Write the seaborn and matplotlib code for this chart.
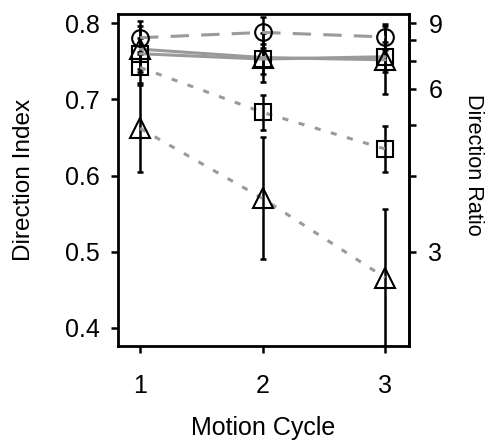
import numpy as np
import pandas as pd
import matplotlib
matplotlib.use("Agg")
import matplotlib.pyplot as plt
import seaborn as sns
from matplotlib.ticker import FixedLocator

cycles = [1, 2, 3]

circ_dash = [0.781, 0.788, 0.782]
circ_dash_err = [0.022, 0.020, 0.017]

tri_solid = [0.766, 0.755, 0.752]
tri_solid_err = [0.030, 0.032, 0.045]

sq_solid = [0.760, 0.753, 0.756]
sq_solid_err = [0.020, 0.020, 0.020]

sq_dot = [0.742, 0.683, 0.635]
sq_dot_err = [0.020, 0.023, 0.030]

tri_dot = [0.662, 0.570, 0.466]
tri_dot_err = [0.057, 0.080, 0.090]

xlabel = "Motion Cycle"
ylabel = "Direction Index"
y2label = "Direction Ratio"

sns.set_style("ticks")
plt.rcParams['font.family'] = ['Liberation Sans', 'DejaVu Sans']
plt.rcParams['text.color'] = 'black'
plt.rcParams['axes.labelcolor'] = 'black'

fig = plt.figure(figsize=(4.94, 4.41), dpi=100)
ax = fig.add_axes([0.239, 0.215, 0.589, 0.753])

series = [
    (circ_dash, circ_dash_err, 'o', (0, (6, 4)), 12),
    (tri_solid, tri_solid_err, '^', '-', 14),
    (sq_solid, sq_solid_err, 's', '-', 11),
    (sq_dot, sq_dot_err, 's', (0, (2, 3.5)), 11),
    (tri_dot, tri_dot_err, '^', (0, (2, 3.5)), 14),
]

for vals, errs, mk, ls, ms in series:
    df = pd.DataFrame({"cycle": cycles, "val": vals})
    ax.errorbar(cycles, vals, yerr=errs, fmt='none', ecolor='black',
                elinewidth=1.8, capsize=2.5, capthick=1.8, zorder=2)
    sns.lineplot(data=df, x="cycle", y="val", ax=ax, color='#9a9a9a',
                 linewidth=2.2, linestyle=ls, zorder=3)
    ax.plot(cycles, vals, linestyle='none', marker=mk, markersize=ms,
            markerfacecolor='none', markeredgecolor='black',
            markeredgewidth=1.5, zorder=4)

ax.set_xlim(0.82, 3.196)
ax.set_ylim(0.376, 0.812)
ax.set_xticks([1, 2, 3])
ax.set_yticks([0.4, 0.5, 0.6, 0.7, 0.8])
ax.set_yticklabels(["0.4", "0.5", "0.6", "0.7", "0.8"])
ax.set_xlabel(xlabel, fontsize=18, labelpad=13)
ax.set_ylabel(ylabel, fontsize=17.6, labelpad=22)
ax.tick_params(axis='both', labelsize=18, width=1.8, length=5, colors='black')
ax.tick_params(axis='y', pad=8)
ax.tick_params(axis='x', pad=15)

for sp in ax.spines.values():
    sp.set_visible(True)
    sp.set_linewidth(2)
    sp.set_color('black')

def d2r(d):
    d = np.asarray(d, dtype=float)
    return (1 + d) / (1 - d)

def r2d(r):
    r = np.asarray(r, dtype=float)
    return (r - 1) / (r + 1)

sec = ax.secondary_yaxis('right', functions=(d2r, r2d))
sec.yaxis.set_major_locator(FixedLocator([3, 6, 9]))
sec.yaxis.set_minor_locator(FixedLocator([4, 5, 7, 8]))
sec.set_yticklabels(["3", "6", "9"])
sec.tick_params(axis='y', which='both', labelsize=18, width=1.8, length=5, colors='black', pad=9)
sec.spines['right'].set_linewidth(2)
sec.set_ylabel(y2label, fontsize=15.6, rotation=270)
sec.yaxis.set_label_coords(1.258, 0.545, transform=ax.transAxes)

fig.savefig("out.png", dpi=100)
